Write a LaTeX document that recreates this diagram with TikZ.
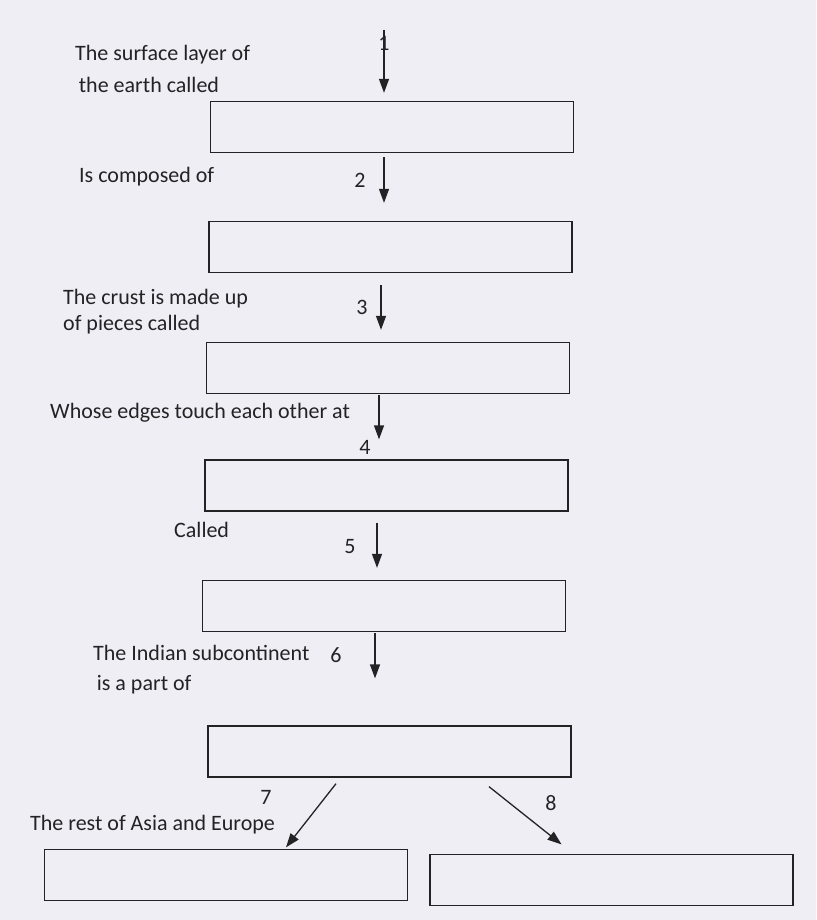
\documentclass[tikz,border=0pt]{standalone}
\usepackage{fontspec}
\setmainfont{Carlito}
\usetikzlibrary{arrows.meta, calc}

\definecolor{paper}{RGB}{239,238,244}
\definecolor{ink}{RGB}{35,35,38}

\begin{document}
\begin{tikzpicture}[
		x=1pt, y=-1pt,
		font=\fontsize{22}{30}\selectfont,
		% Style for the empty answer boxes
		blank/.style={draw=ink, line width=1.3pt, minimum width=363pt, minimum height=51pt, inner sep=0pt},
		% Prompt texts and step numbers
		prompt/.style={anchor=west, align=left, text=ink, inner sep=0pt},
		num/.style={text=ink, inner sep=0pt},
		% Connector style
		arrow/.style={-{Triangle[length=14pt, width=10pt]}, line width=1.3pt, draw=ink}
		]
		
		% --- 0. The paper ---
		\fill[paper] (0,0) rectangle (816,920);
		
		% --- 1. The answer boxes ---
		\node[blank] (b1) at (392,127) {};
		\node[blank] (b2) at (390.5,247) {};
		\node[blank] (b3) at (388,368) {};
		\node[blank] (b4) at (386.5,485.5) {};
		\node[blank] (b5) at (384,606) {};
		\node[blank] (b6) at (389.5,751.5) {};
		\node[blank] (b7) at (226,875) {};
		\node[blank] (b8) at (611.5,880) {};
		
		% --- 2. Prompts ---
		\node[prompt] (t1) at (75,69) {The surface layer of\\[2pt]\,the earth called};
		\node[prompt] (t2) at (79,177) {Is composed of};
		\node[prompt] (t3) at (63,312) {The crust is made up\\[-4pt]of pieces called};
		\node[prompt] (t4) at (50,413) {Whose edges touch each other at};
		\node[prompt] (t5) at (174,530) {Called};
		\node[prompt] (t6) at (93,670) {The Indian subcontinent\\\,is a part of};
		\node[prompt] (t7) at (30,825) {The rest of Asia and Europe};
		
		% --- 3. Step numbers ---
		\node[num] (n1) at (384,43) {1};
		\node[num] (n2) at (360,180) {2};
		\node[num] (n3) at (362,307) {3};
		\node[num] (n4) at (365,447) {4};
		\node[num] (n5) at (350,547) {5};
		\node[num] (n6) at (336,655) {6};
		\node[num] (n7) at (266,797) {7};
		\node[num] (n8) at (551,803) {8};
		
		% --- 4. Arrows between the boxes ---
		\coordinate (start) at (384,30);
		\draw[arrow] (start) -- ($(b1.north)+(-8,-8)$);
		\draw[arrow] ($(b1.south)+(-8,4)$) -- ($(b2.north)+(-6.5,-18)$);
		\draw[arrow] ($(b2.south)+(-9.5,12)$) -- ($(b3.north)+(-7,-12)$);
		\draw[arrow] ($(b3.south)+(-9,1)$) -- ($(b4.north)+(-7.5,-20)$);
		\draw[arrow] ($(b4.south)+(-9.5,11)$) -- ($(b5.north)+(-7,-12)$);
		\draw[arrow] ($(b5.south)+(-9,1)$) -- ($(b6.north)+(-14.5,-47)$);
		\draw[arrow] ($(b6.south)+(-53.5,6)$) -- ($(b7.north)+(60,-1.5)$);
		\draw[arrow] ($(b6.south)+(99.5,9)$) -- ($(b8.north)+(-50,-9.5)$);
		
	\end{tikzpicture}
\end{document}
